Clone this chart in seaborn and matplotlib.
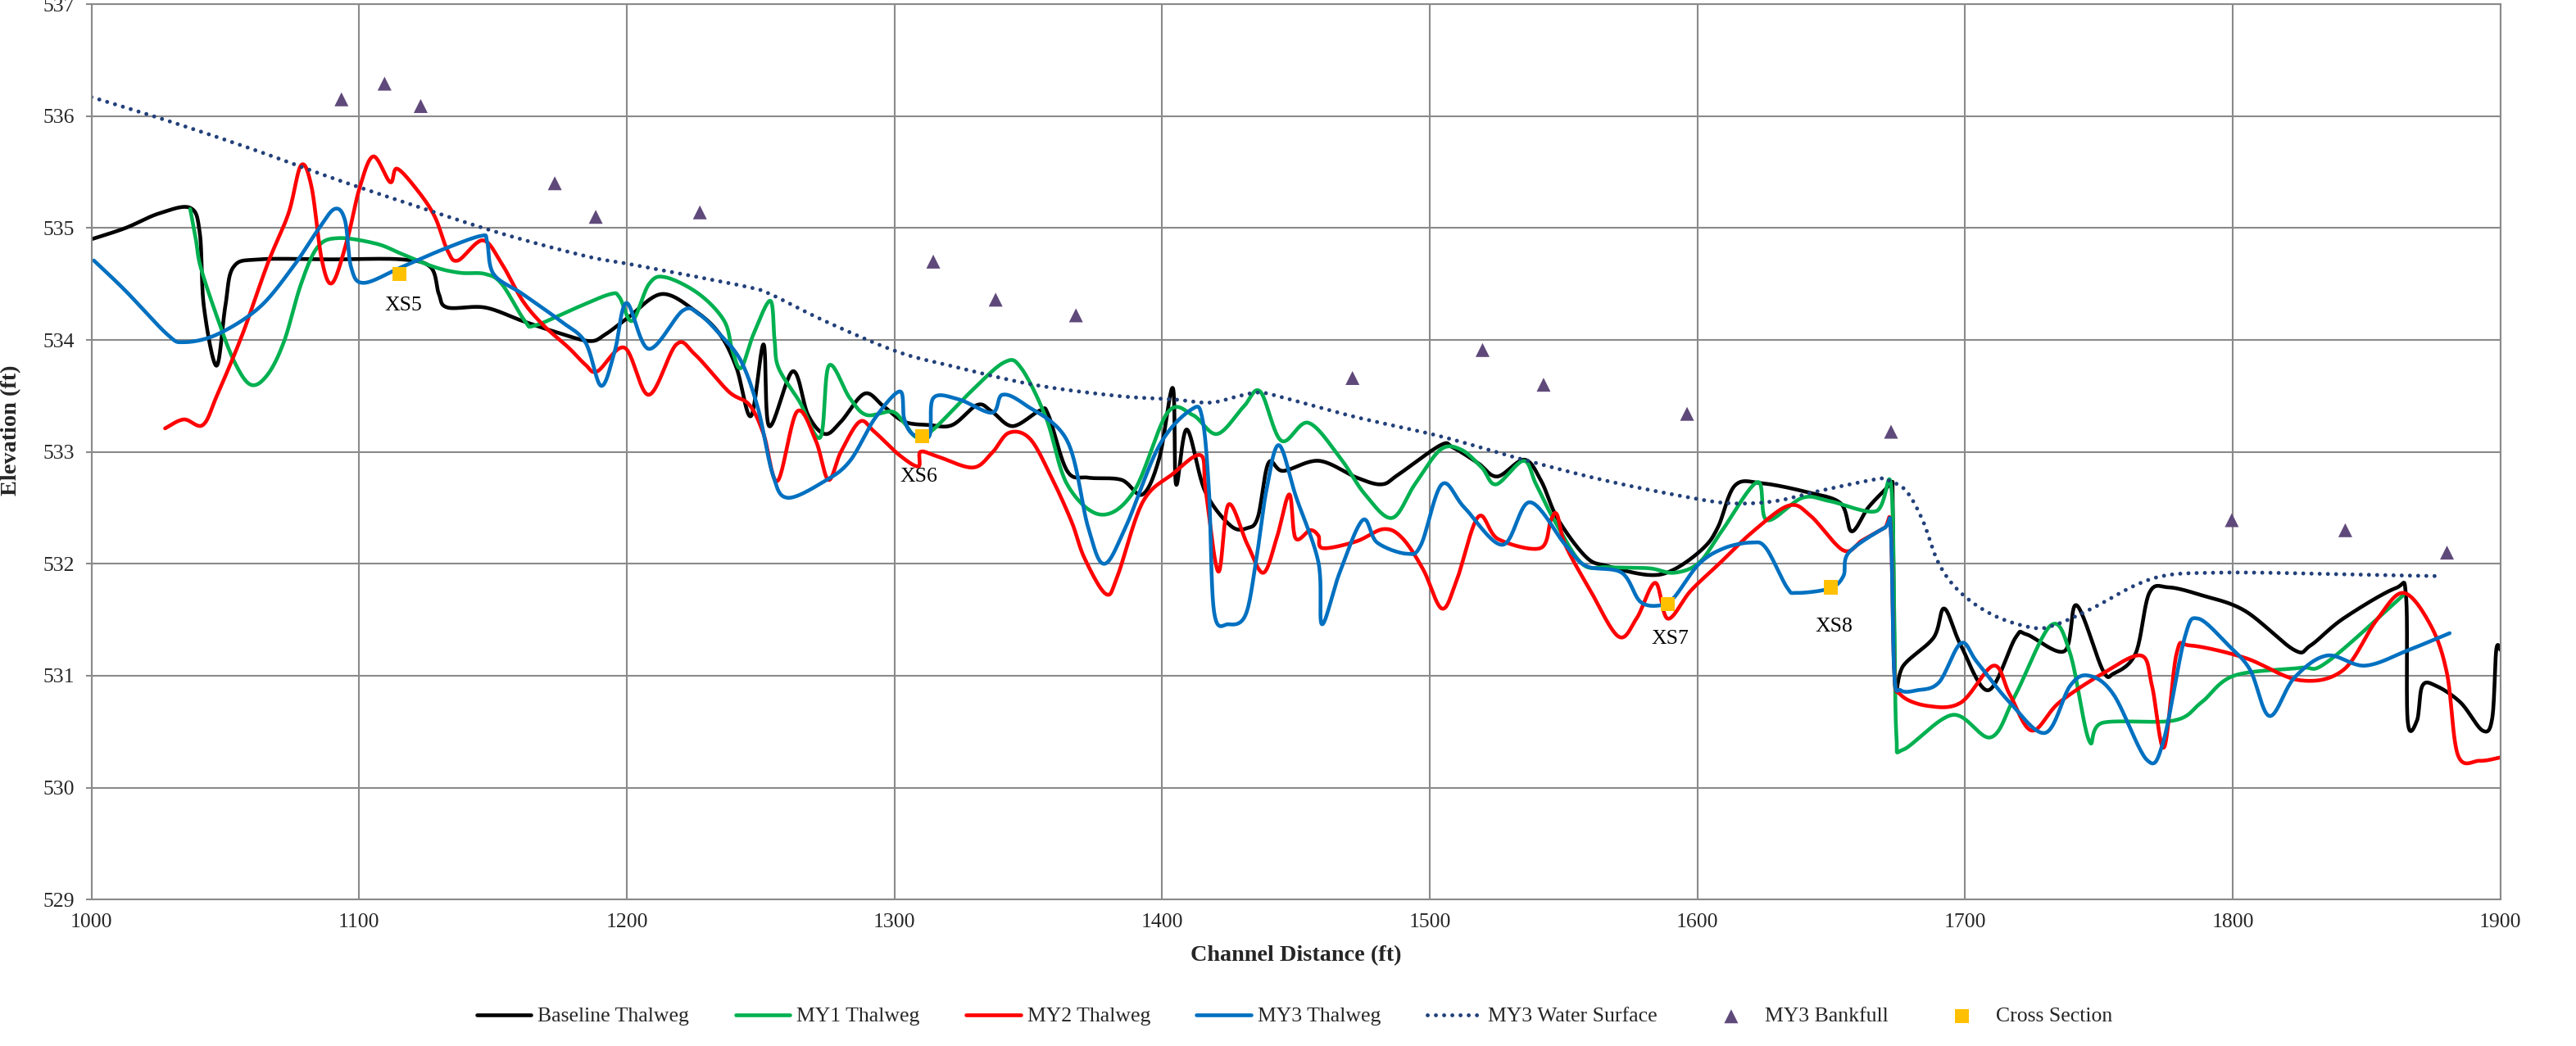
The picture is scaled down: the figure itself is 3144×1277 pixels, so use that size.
import numpy as np
import matplotlib
matplotlib.use("Agg")
import matplotlib.pyplot as plt
import seaborn as sns

# ---- surveyed profiles: (channel distance ft, elevation ft) ----
baseline = [(1000, 534.90), (1012.7, 535.00), (1025.2, 535.13), (1036.9, 535.18), (1040.5, 534.95),
            (1042, 534.30), (1046.7, 533.77), (1050, 534.30), (1053, 534.65), (1062.7, 534.72),
            (1090, 534.72), (1115.8, 534.72), (1126.7, 534.65), (1129.8, 534.41), (1133, 534.29),
            (1147, 534.29), (1161, 534.17), (1173.6, 534.07), (1186, 533.99), (1192, 534.05),
            (1200.5, 534.20), (1213, 534.41), (1225.5, 534.26), (1234.8, 534.05), (1241, 533.75),
            (1246.4, 533.32), (1251.1, 533.96), (1253.2, 533.23), (1262, 533.72), (1267.7, 533.33),
            (1274, 533.16), (1280, 533.27), (1288.8, 533.52), (1295.8, 533.41), (1303.6, 533.27),
            (1313, 533.24), (1321.6, 533.24), (1331, 533.42), (1336.4, 533.36), (1344.2, 533.23),
            (1354.4, 533.37), (1357.5, 533.33), (1364.5, 532.83), (1372.3, 532.77), (1384.8, 532.75),
            (1392.7, 532.62), (1399, 532.95), (1404, 533.57), (1405.2, 532.71), (1409.2, 533.20),
            (1416, 532.65), (1425.6, 532.34), (1431.9, 532.32), (1435.8, 532.42), (1439.7, 532.90),
            (1445.2, 532.83), (1458.6, 532.92), (1472.7, 532.77), (1482, 532.71), (1488.4, 532.80),
            (1504, 533.06), (1508.6, 533.04), (1518, 532.90), (1525.2, 532.78), (1535.3, 532.93),
            (1541.6, 532.74), (1547.8, 532.40), (1558.4, 532.06), (1566.3, 531.98), (1581.9, 531.90),
            (1591.3, 531.95), (1602.2, 532.14), (1607.7, 532.33), (1614, 532.70), (1624, 532.72),
            (1641, 532.64), (1653.5, 532.54), (1657.6, 532.29), (1663.7, 532.50), (1670, 532.66),
            (1672.6, 532.72), (1672.9, 532.60), (1673.4, 531.50), (1674, 530.87), (1676.9, 531.09),
            (1688.2, 531.34), (1692.2, 531.60),
            (1698.4, 531.27), (1708.6, 530.87), (1718.8, 531.34), (1722.9, 531.37), (1737.1, 531.22),
            (1741.6, 531.63), (1751.4, 531.05), (1755.5, 531.02), (1763.7, 531.20), (1768.8, 531.74),
            (1775.9, 531.79), (1788.2, 531.72), (1804.5, 531.58), (1822.9, 531.23), (1829, 531.27),
            (1841.2, 531.51), (1860.6, 531.78), (1864.7, 531.71), (1865.3, 530.60), (1868.8, 530.60),
            (1870.8, 530.91), (1875.9, 530.91), (1885.1, 530.76), (1893.3, 530.51), (1896.9, 530.62),
            (1898.4, 531.23), (1900, 531.23)]

my1 = [(1036.9, 535.17), (1039, 534.90), (1040.8, 534.65), (1047, 534.20), (1053.3, 533.81),
       (1059.5, 533.60), (1065.8, 533.69), (1072, 533.99), (1078.3, 534.50), (1084.5, 534.83),
       (1092.3, 534.91), (1106.4, 534.86), (1115.8, 534.77), (1128.3, 534.65), (1137.7, 534.60),
       (1147, 534.59), (1153.3, 534.50), (1161.9, 534.17), (1165.8, 534.13), (1181.4, 534.29),
       (1193.9, 534.41), (1197.3, 534.38), (1202, 534.17), (1208.3, 534.50), (1214.5, 534.56),
       (1227, 534.41), (1236.4, 534.17), (1239.5, 533.90), (1242.7, 533.75), (1247.3, 534.05),
       (1253.6, 534.35), (1255.2, 534.00), (1256.7, 533.75), (1264.5, 533.45), (1272.3, 533.13),
       (1275.5, 533.77), (1283.3, 533.48), (1289.5, 533.33), (1299, 533.36), (1303.6, 533.26),
       (1308.3, 533.13), (1314.5, 533.20), (1328.6, 533.54), (1341, 533.80), (1347.3, 533.75),
       (1356.7, 533.30), (1364.5, 532.71), (1377, 532.44), (1389.5, 532.65), (1402, 533.35),
       (1411.4, 533.33), (1420.5, 533.16), (1430.3, 533.40), (1436.6, 533.54), (1444.5, 533.10),
       (1454.6, 533.26), (1466.4, 532.95), (1475.8, 532.62), (1485.9, 532.41), (1494.4, 532.71),
       (1504, 533.02), (1511.7, 533.02), (1519.4, 532.86), (1524.8, 532.71), (1535, 532.92),
       (1539.7, 532.71), (1546.7, 532.38), (1556.9, 532.00), (1566.3, 531.97), (1581.9, 531.96),
       (1591.3, 531.92), (1600.6, 532.01), (1609, 532.29), (1622.4, 532.73), (1625.9, 532.39),
       (1639.2, 532.59), (1649.4, 532.56), (1666.7, 532.47), (1672.2, 532.72), (1673.5, 531.56),
       (1674.3, 530.47), (1676.9, 530.34), (1695.3, 530.65), (1709.6, 530.45), (1718.8, 530.83),
       (1732, 531.45), (1739.2, 531.20), (1746.3, 530.42), (1751.4, 530.58), (1778, 530.60),
       (1788.2, 530.76), (1800.4, 531.00), (1824.9, 531.07), (1835.1, 531.12), (1863.7, 531.72)]

my2 = [(1027.5, 533.21), (1034.5, 533.29), (1041.6, 533.24), (1047, 533.51), (1056.4, 534.05),
       (1065.8, 534.68), (1073.6, 535.13), (1078.3, 535.56), (1082.2, 535.37), (1086.1, 534.71),
       (1090, 534.51), (1095.5, 534.89), (1100.2, 535.36), (1105.3, 535.64), (1111.6, 535.41),
       (1114.2, 535.53), (1122, 535.33), (1128.3, 535.10), (1133, 534.80), (1136.9, 534.71),
       (1146.2, 534.89), (1153.3, 534.68), (1161.1, 534.35), (1168.9, 534.13), (1178.3, 533.93),
       (1184.5, 533.78), (1189, 533.72), (1199.2, 533.93), (1208.2, 533.51), (1218.5, 533.96),
       (1225.5, 533.87), (1238, 533.54), (1245.8, 533.42), (1251.1, 533.16), (1256.3, 532.74),
       (1263.6, 533.36), (1270.6, 533.10), (1275.3, 532.75), (1280, 533.00), (1287, 533.27),
       (1292.5, 533.18), (1301.9, 532.97), (1308.9, 532.87), (1309.7, 533.00), (1316, 532.96),
       (1329.2, 532.86), (1336.4, 532.99), (1342.7, 533.17), (1350.5, 533.12), (1358.3, 532.79),
       (1366.1, 532.38), (1371, 532.05), (1379, 531.73), (1383.3, 531.89), (1392.7, 532.55),
       (1403.8, 532.80), (1414.4, 532.97), (1416.3, 532.65), (1421, 531.93), (1424.8, 532.53),
       (1431.9, 532.17), (1437.8, 531.92), (1442.8, 532.23), (1447.5, 532.62), (1449.8, 532.23),
       (1455.3, 532.30), (1458.4, 532.25), (1460, 532.14), (1472.5, 532.20), (1482.7, 532.31),
       (1489.7, 532.23), (1497.5, 531.95), (1504.5, 531.60), (1510, 531.85), (1518.1, 532.42),
       (1525.6, 532.22), (1541.3, 532.14), (1545.2, 532.39), (1547.5, 532.44), (1550.6, 532.17),
       (1560, 531.76), (1570.5, 531.35), (1577.2, 531.51), (1584.2, 531.83), (1588.9, 531.51),
       (1597.5, 531.76), (1608.5, 532.01), (1620.8, 532.29), (1634.1, 532.52), (1642.2, 532.43),
       (1654.5, 532.12), (1661.6, 532.21), (1669.8, 532.32), (1672.2, 532.32), (1673.5, 531.05),
       (1675.9, 530.83), (1686.1, 530.73), (1698.4, 530.76), (1710.6, 531.09), (1716.7, 530.83),
       (1724.9, 530.51), (1735.1, 530.76), (1751.4, 531.02), (1765.7, 531.18), (1769.8, 530.91),
       (1774.3, 530.36), (1779, 531.20), (1784.1, 531.27), (1804.5, 531.16), (1824.9, 530.96),
       (1841.2, 531.05), (1853.5, 531.49), (1863.7, 531.74), (1873.9, 531.45), (1880, 531.02),
       (1884.1, 530.29), (1892.2, 530.24), (1900, 530.27)]

my3 = [(1000.9, 534.71), (1012.7, 534.44), (1028.3, 534.05), (1034.5, 533.98), (1047, 534.05),
       (1062.7, 534.29), (1075.2, 534.65), (1084.5, 534.98), (1090.8, 535.17), (1094.7, 535.07),
       (1097, 534.65), (1101.7, 534.51), (1115.8, 534.65), (1131.4, 534.81), (1145.5, 534.93),
       (1147.8, 534.88), (1150.2, 534.59), (1161.1, 534.41), (1175.2, 534.17), (1184.5, 533.98),
       (1190.4, 533.59), (1195.5, 533.90), (1199.9, 534.33), (1208.2, 533.92), (1220.8, 534.26),
       (1227, 534.23), (1234.8, 534.05), (1242.7, 533.81), (1249, 533.39), (1254.5, 532.80),
       (1260, 532.59), (1274, 532.74), (1283.4, 532.92), (1292.7, 533.30), (1302, 533.54),
       (1303.6, 533.30), (1306.7, 533.16), (1313, 533.14), (1314.5, 533.48), (1323.9, 533.47),
       (1336.4, 533.35), (1340.3, 533.51), (1348.9, 533.42), (1364.5, 533.10), (1372.3, 532.33),
       (1378.3, 532.00), (1386.4, 532.33), (1399, 533.06), (1411, 533.38), (1415, 533.30),
       (1417.5, 532.65), (1419.4, 531.57), (1424.8, 531.46), (1431.1, 531.54), (1435, 532.01),
       (1438.9, 532.65), (1443.6, 533.06), (1450, 532.60), (1458.4, 532.01), (1459.7, 531.46),
       (1466.3, 531.92), (1474.9, 532.39), (1480.3, 532.19), (1491.3, 532.09), (1496.7, 532.17),
       (1504.5, 532.71), (1513, 532.50), (1527.2, 532.17), (1537.3, 532.55), (1550.6, 532.17),
       (1558.4, 531.98), (1571.7, 531.92), (1578.7, 531.66), (1586.6, 531.63), (1591.3, 531.70),
       (1600.6, 532.00), (1610, 532.14), (1620.2, 532.19), (1625.6, 532.14), (1633.4, 531.79),
       (1637.1, 531.74), (1649.4, 531.78), (1654.5, 531.89), (1656.5, 532.10), (1669.8, 532.32),
       (1672.2, 532.30), (1673.5, 531.02), (1675.9, 530.87), (1682, 530.87), (1690.2, 530.94),
       (1698.4, 531.29), (1704.5, 531.12), (1716.7, 530.76), (1730, 530.49), (1739.2, 530.91),
       (1746.3, 531.00), (1755.5, 530.83), (1767.8, 530.25), (1773.9, 530.40), (1782, 531.34),
       (1787.1, 531.51), (1798.4, 531.27), (1806.5, 531.05), (1813.7, 530.64), (1822.9, 530.98),
       (1835.1, 531.18), (1849.4, 531.09), (1865.7, 531.23), (1881, 531.38)]

water_surface = [(1000, 536.17), (1028.3, 535.96), (1059.5, 535.71), (1090.8, 535.44), (1122, 535.19),
                 (1153.3, 534.95), (1184.5, 534.75), (1200.5, 534.68), (1227, 534.56), (1245.8, 534.47),
                 (1253.6, 534.41), (1273.9, 534.17), (1300.5, 533.90), (1320.8, 533.77), (1352, 533.60),
                 (1383.3, 533.50), (1403.6, 533.47), (1417.8, 533.44), (1428.8, 533.50), (1436.6, 533.53),
                 (1446, 533.48), (1472.5, 533.31), (1503.8, 533.14), (1535, 532.93), (1566.3, 532.74),
                 (1597.5, 532.59), (1613.1, 532.54), (1629, 532.56), (1645.3, 532.65), (1667.8, 532.76),
                 (1671.8, 532.74), (1678, 532.65), (1684.1, 532.39), (1690.2, 532.00), (1698.4, 531.74),
                 (1710.6, 531.54), (1724.9, 531.43), (1733.1, 531.45), (1747.3, 531.60), (1763.7, 531.81),
                 (1775.9, 531.90), (1792.2, 531.92), (1812.7, 531.92), (1853.5, 531.90), (1876.9, 531.89)]

bankfull_x = [1093.4, 1109.5, 1123, 1173.1, 1188.4, 1227.3, 1314.5, 1337.8, 1367.8,
              1471.1, 1519.7, 1542.5, 1596.1, 1672.3, 1799.6, 1842, 1880]
bankfull_y = [536.15, 536.29, 536.09, 535.40, 535.10, 535.14, 534.70, 534.36, 534.22,
              533.66, 533.91, 533.60, 533.34, 533.18, 532.39, 532.30, 532.10]

xs_names = ["XS5", "XS6", "XS7", "XS8"]
xs_x = [1115, 1310.2, 1588.9, 1649.8]
xs_y = [534.59, 533.14, 531.64, 531.79]
xs_label_pos = [(1116.6, 534.31), (1309.1, 532.78), (1589.7, 531.33), (1651, 531.44)]

x_ticks = list(range(1000, 1901, 100))
y_ticks = list(range(529, 538))


def smooth_path(pts, n=24):
    """Smoothed line through the points (Bezier form of a Catmull-Rom spline)."""
    p = np.asarray(pts, float)
    P = np.vstack([p[0], p, p[-1]])
    t = np.linspace(0, 1, n, endpoint=False)[:, None]
    out = []
    for i in range(1, len(P) - 2):
        p0, p1, p2, p3 = P[i - 1], P[i], P[i + 1], P[i + 2]
        c1 = p1 + (p2 - p0) / 6.0
        c2 = p2 - (p3 - p1) / 6.0
        out.append((1 - t) ** 3 * p1 + 3 * (1 - t) ** 2 * t * c1 + 3 * (1 - t) * t ** 2 * c2 + t ** 3 * p2)
    out.append(p[-1:])
    return np.vstack(out)


sns.set_theme(style="white")
plt.rcParams["font.family"] = ["Liberation Serif", "DejaVu Serif"]
FS = 18.5
LABEL_FS = 20.3
GRID = "#8a8a8a"

fig = plt.figure(figsize=(31.44, 12.77), dpi=100)
ax = fig.add_axes([0.0355, 0.140, 0.9352, 0.856])

series = [
    (baseline, "Baseline Thalweg", "black"),
    (my1, "MY1 Thalweg", "#00B050"),
    (my2, "MY2 Thalweg", "#FF0000"),
    (my3, "MY3 Thalweg", "#0070C0"),
]
for pts, name, col in series:
    s = smooth_path(pts)
    sns.lineplot(x=s[:, 0], y=s[:, 1], sort=False, estimator=None, color=col,
                 lw=3.3, label=name, ax=ax)

ws = smooth_path(water_surface)
sns.lineplot(x=ws[:, 0], y=ws[:, 1], sort=False, estimator=None, color="#22407a",
             lw=3.5, label="MY3 Water Surface", ax=ax, dashes=False)
ax.lines[-1].set_dashes([0.01, 2.05])
ax.lines[-1].set_dash_capstyle("round")

sns.scatterplot(x=bankfull_x, y=bankfull_y, marker="^", s=150, color="#5F497A",
                edgecolor="none", label="MY3 Bankfull", ax=ax, zorder=5)
sns.scatterplot(x=xs_x, y=xs_y, marker="s", s=150, color="#FFC000",
                edgecolor="none", label="Cross Section", ax=ax, zorder=6)

for name, (tx, ty) in zip(xs_names, xs_label_pos):
    ax.text(tx, ty, name, ha="center", va="center", fontsize=FS, color="black")

ax.set_xlim(1000, 1900)
ax.set_ylim(529, 537)
ax.set_xticks(x_ticks)
ax.set_yticks(y_ticks)
ax.grid(True, color=GRID, lw=1.5)
ax.set_axisbelow(True)
for sp in ax.spines.values():
    sp.set_color(GRID)
    sp.set_linewidth(1.5)
ax.tick_params(axis="y", which="major", left=True, length=5, width=1.5, color=GRID,
               labelsize=FS, pad=10)
ax.tick_params(axis="x", which="major", bottom=False, length=0, labelsize=FS, pad=12)

ax.set_xlabel("Channel Distance (ft)", fontsize=LABEL_FS, fontweight="bold")
ax.set_ylabel("Elevation (ft)", fontsize=LABEL_FS, fontweight="bold")
ax.xaxis.set_label_coords(0.5, -0.051)
ax.yaxis.set_label_coords(-0.029, 0.524)

handles, labels = ax.get_legend_handles_labels()
ax.get_legend().remove()
fig.legend(handles, labels, loc="center", bbox_to_anchor=(0.5025, 1 - 1241 / 1277), ncol=7,
           frameon=False, fontsize=FS, handlelength=2.6, handletextpad=0.3,
           columnspacing=2.2, markerscale=1.0)

fig.savefig("out.png", dpi=100)
